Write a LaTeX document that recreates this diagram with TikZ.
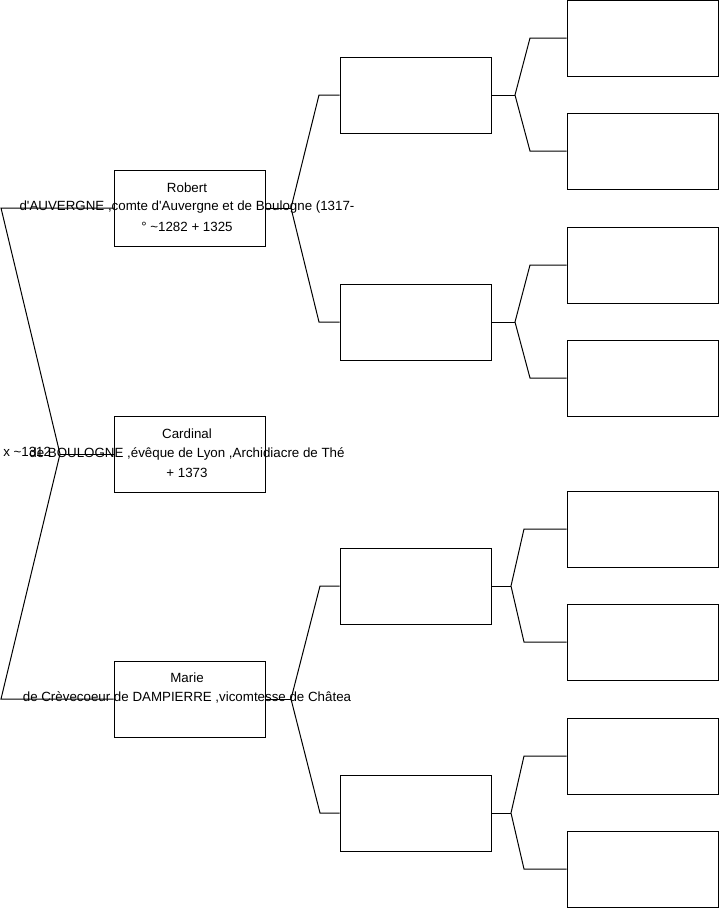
\documentclass[tikz,border=0pt]{standalone}
\usepackage{fontspec}
\setmainfont{Liberation Sans}
\begin{document}
\begin{tikzpicture}[x=0.75pt,y=-0.75pt,
  box/.style={draw=black,line width=0.75pt,minimum width=113.25pt,minimum height=57pt,inner sep=0pt},
  lbl/.style={inner sep=0pt,font=\fontsize{10pt}{12pt}\selectfont,text=black},
  conn/.style={draw=black,line width=0.75pt}]
\useasboundingbox (0,0) rectangle (719,908);
% column 1
\node[box] (rob) at (189.5,208) {};
\node[box] (car) at (189.5,454) {};
\node[box] (mar) at (189.5,699) {};
% column 2
\node[box] (b1) at (415.5,95) {};
\node[box] (b2) at (415.5,322) {};
\node[box] (b3) at (415.5,586) {};
\node[box] (b4) at (415.5,813) {};
% column 3
\node[box] (c1) at (642.5,38) {};
\node[box] (c2) at (642.5,151) {};
\node[box] (c3) at (642.5,265) {};
\node[box] (c4) at (642.5,378) {};
\node[box] (c5) at (642.5,529) {};
\node[box] (c6) at (642.5,642) {};
\node[box] (c7) at (642.5,756) {};
\node[box] (c8) at (642.5,869) {};
% texts
\node[lbl] (t1a) at (187,188) {Robert};
\node[lbl] (t1b) at (187,207.5) {d\textquotesingle AUVERGNE ,comte d\textquotesingle Auvergne et de Boulogne (1317-};
\node[lbl] (t1c) at (187,227) {° \textasciitilde1282 + 1325};
\node[lbl] (t2a) at (187,434) {Cardinal};
\node[lbl] (t2b) at (187,453.5) {de BOULOGNE ,évêque de Lyon ,Archidiacre de Thé};
\node[lbl] (t2c) at (187,473) {+ 1373};
\node[lbl,anchor=west] (t2x) at (3,451.5) {x \textasciitilde1312};
\node[lbl] (t3a) at (187,678) {Marie};
\node[lbl] (t3b) at (187,697.5) {de Crèvecoeur de DAMPIERRE ,vicomtesse de Châtea};
% coordinates
\coordinate (L1) at (1,208);
\coordinate (LA) at (60,454);
\coordinate (L3) at (1,699);
\coordinate (RA) at (291,208);
\coordinate (r1) at (319,95);
\coordinate (r2) at (319,322);
\coordinate (MA) at (291,699);
\coordinate (m1) at (320,586);
\coordinate (m2) at (320,813);
\coordinate (A1) at (515,95);
\coordinate (a1) at (530,38);
\coordinate (a2) at (530,151);
\coordinate (A2) at (515,322);
\coordinate (a3) at (530,265);
\coordinate (a4) at (530,378);
\coordinate (A3) at (511,586);
\coordinate (a5) at (524,529);
\coordinate (a6) at (524,642);
\coordinate (A4) at (511,813);
\coordinate (a7) at (524,756);
\coordinate (a8) at (524,869);
% connectors
\draw[conn] (rob.west) -- (L1) -- (LA) -- (L3) -- (mar.west);
\draw[conn] (LA) -- (car.west);
\draw[conn] (rob.east) -- (RA);
\draw[conn] (b1.west) -- (r1) -- (RA) -- (r2) -- (b2.west);
\draw[conn] (mar.east) -- (MA);
\draw[conn] (b3.west) -- (m1) -- (MA) -- (m2) -- (b4.west);
\draw[conn] (b1.east) -- (A1);
\draw[conn] (c1.west) -- (a1) -- (A1) -- (a2) -- (c2.west);
\draw[conn] (b2.east) -- (A2);
\draw[conn] (c3.west) -- (a3) -- (A2) -- (a4) -- (c4.west);
\draw[conn] (b3.east) -- (A3);
\draw[conn] (c5.west) -- (a5) -- (A3) -- (a6) -- (c6.west);
\draw[conn] (b4.east) -- (A4);
\draw[conn] (c7.west) -- (a7) -- (A4) -- (a8) -- (c8.west);
\end{tikzpicture}
\end{document}
